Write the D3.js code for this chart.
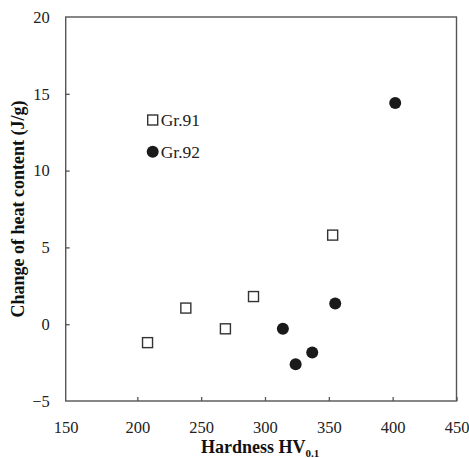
<!DOCTYPE html>
<html>
<head>
<meta charset="utf-8">
<script src="https://cdn.jsdelivr.net/npm/d3@7"></script>
<style>
  body { margin: 0; background: #fff; }
  svg { display: block; font-family: "Liberation Serif", "Times New Roman", serif; }
</style>
</head>
<body>
<svg id="chart" width="469" height="458"></svg>
<script>
// values
var gr91Hardness = [208, 238, 269, 291, 353];
var gr91Heat = [-1.2, 1.05, -0.3, 1.8, 5.8];
var gr92Hardness = [314, 324, 337, 355, 402];
var gr92Heat = [-0.3, -2.6, -1.85, 1.35, 14.4];
var xTicks = [150, 200, 250, 300, 350, 400, 450];
var yTicks = [-5, 0, 5, 10, 15, 20];
var seriesNames = ["Gr.91", "Gr.92"];

var plotLeft = 65.7, plotRight = 456.5, plotTop = 17, plotBottom = 401;
var axisColor = "#555";

var svg = d3.select("#chart");

var x = d3.scaleLinear().domain([143.9, 450]).range([plotLeft, plotRight]);
var y = d3.scaleLinear().domain([-5, 20]).range([plotBottom, plotTop]);

// frame
svg.append("rect")
  .attr("x", plotLeft).attr("y", plotTop)
  .attr("width", plotRight - plotLeft).attr("height", plotBottom - plotTop)
  .attr("fill", "none")
  .attr("stroke", axisColor)
  .attr("stroke-width", 1.4);

// x axis, ticks pointing inward
var xAxis = svg.append("g")
  .attr("transform", `translate(0,${plotBottom})`)
  .call(d3.axisBottom(x).tickValues(xTicks).tickSizeInner(-4).tickSizeOuter(0).tickPadding(20));
xAxis.select(".domain").remove();
xAxis.selectAll(".tick line").attr("stroke", axisColor).attr("stroke-width", 1.3)
  .filter(d => d === 150).remove();
xAxis.selectAll(".tick text")
  .attr("fill", "#222")
  .style("font-size", "16.5px")
  .style("font-family", "Liberation Serif, serif")
  .attr("x", d => d === 150 ? x(143.9) - x(150) : 0);

// y axis
var yAxis = svg.append("g")
  .attr("transform", `translate(${plotLeft},0)`)
  .call(d3.axisLeft(y).tickValues(yTicks).tickSizeInner(-4).tickSizeOuter(0).tickPadding(16));
yAxis.select(".domain").remove();
yAxis.selectAll(".tick line").attr("stroke", axisColor).attr("stroke-width", 1.3)
  .filter(d => d === -5 || d === 20).remove();
yAxis.selectAll(".tick text")
  .attr("fill", "#222")
  .style("font-size", "16.5px")
  .style("font-family", "Liberation Serif, serif");

// axis titles
var xTitle = svg.append("text")
  .attr("x", (plotLeft + plotRight) / 2 - 1)
  .attr("y", 453)
  .attr("text-anchor", "middle")
  .attr("font-weight", "bold")
  .attr("font-size", 18)
  .attr("fill", "#111");
xTitle.append("tspan").text("Hardness HV");
xTitle.append("tspan").attr("font-size", 11).attr("dy", 3.5).text("0.1");

svg.append("text")
  .attr("transform", `translate(24,${(plotTop + plotBottom) / 2}) rotate(-90)`)
  .attr("text-anchor", "middle")
  .attr("font-weight", "bold")
  .attr("font-size", 18)
  .attr("fill", "#111")
  .text("Change of heat content (J/g)");

// Gr.91 squares
var sq = 10;
svg.append("g").selectAll("rect")
  .data(gr91Hardness.map((h, i) => [h, gr91Heat[i]]))
  .join("rect")
  .attr("x", d => x(d[0]) - sq / 2)
  .attr("y", d => y(d[1]) - sq / 2)
  .attr("width", sq).attr("height", sq)
  .attr("fill", "#fff")
  .attr("stroke", "#333")
  .attr("stroke-width", 1.4);

// Gr.92 circles
svg.append("g").selectAll("circle")
  .data(gr92Hardness.map((h, i) => [h, gr92Heat[i]]))
  .join("circle")
  .attr("cx", d => x(d[0]))
  .attr("cy", d => y(d[1]))
  .attr("r", 6)
  .attr("fill", "#1a1a1a");

// legend
var legend = svg.append("g").attr("transform", "translate(152.7,120)");
legend.append("rect")
  .attr("x", -sq / 2).attr("y", -sq / 2)
  .attr("width", sq).attr("height", sq)
  .attr("fill", "#fff").attr("stroke", "#333").attr("stroke-width", 1.4);
legend.append("circle").attr("cx", 0).attr("cy", 31.7).attr("r", 6).attr("fill", "#1a1a1a");
legend.selectAll("text")
  .data(seriesNames)
  .join("text")
  .attr("x", 8)
  .attr("y", (d, i) => 6 + i * 31.7)
  .attr("font-size", 17.5)
  .attr("fill", "#222")
  .text(d => d);
</script>
</body>
</html>
